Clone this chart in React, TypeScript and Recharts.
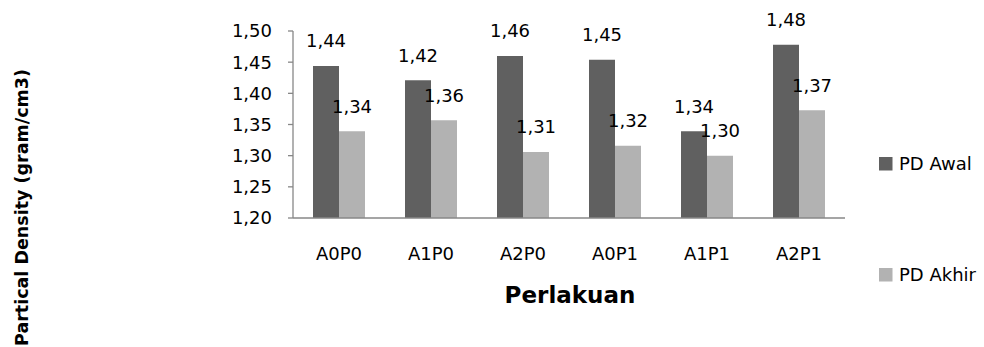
import { Bar, BarChart, LabelList, XAxis, YAxis } from 'recharts';

const categories = ['A0P0', 'A1P0', 'A2P0', 'A0P1', 'A1P1', 'A2P1'];
const pdAwal = [1.444, 1.421, 1.46, 1.454, 1.339, 1.478];
const pdAkhir = [1.339, 1.357, 1.306, 1.316, 1.3, 1.373];
const yTicks = [1.2, 1.25, 1.3, 1.35, 1.4, 1.45, 1.5];

const series = [
  { key: 'awal', name: 'PD Awal', color: '#606060' },
  { key: 'akhir', name: 'PD Akhir', color: '#b2b2b2' },
];

const data = categories.map((name, i) => ({
  name,
  awal: pdAwal[i],
  akhir: pdAkhir[i],
}));

const FONT = '"DejaVu Sans", sans-serif';
const AXIS = '#878787';

const fmt = (v: number) => v.toFixed(2).replace('.', ',');

// value labels sit well above the bar top, centred on the bar
function ValueLabel(props: any) {
  const { x, y, width, value } = props;
  return (
    <text
      x={x + width / 2}
      y={y - 18.5}
      textAnchor="middle"
      fontFamily={FONT}
      fontSize={18}
      fill="#000"
    >
      {fmt(Number(value))}
    </text>
  );
}

function CategoryTick(props: any) {
  const { x, y, payload } = props;
  return (
    <text x={x} y={y + 41.5} textAnchor="middle" fontFamily={FONT} fontSize={18} fill="#000">
      {payload.value}
    </text>
  );
}

export default function App() {
  return (
    <div style={{ position: 'absolute', left: 0, top: 0, width: 984, height: 347, background: '#fff' }}>
      <BarChart
        width={984}
        height={347}
        data={data}
        margin={{ top: 31, right: 139, bottom: 89, left: 230 }}
        barCategoryGap={20}
        barGap={0}
      >
        <XAxis
          dataKey="name"
          height={40}
          axisLine={{ stroke: AXIS, strokeWidth: 1.3 }}
          tickLine={false}
          tickSize={0}
          tickMargin={0}
          tick={<CategoryTick />}
          interval={0}
        />
        <YAxis
          width={63}
          domain={[1.2, 1.5]}
          ticks={yTicks}
          interval={0}
          tickFormatter={fmt}
          axisLine={{ stroke: AXIS, strokeWidth: 1.3 }}
          tickLine={{ stroke: AXIS, strokeWidth: 1.3 }}
          tickSize={5}
          tickMargin={16}
          tick={{ fontFamily: FONT, fontSize: 18, fill: '#000' }}
        />
        {series.map((s) => (
          <Bar key={s.key} dataKey={s.key} name={s.name} fill={s.color} isAnimationActive={false}>
            <LabelList dataKey={s.key} content={<ValueLabel />} />
          </Bar>
        ))}
      </BarChart>
      <svg
        width={984}
        height={347}
        style={{ position: 'absolute', left: 0, top: 0, pointerEvents: 'none' }}
      >
        <text
          x={570}
          y={303}
          textAnchor="middle"
          fontFamily={FONT}
          fontWeight="bold"
          fontSize={23}
          fill="#000"
        >
          Perlakuan
        </text>
        <text
          x={28}
          y={207.5}
          transform="rotate(-90, 28, 207.5)"
          textAnchor="middle"
          fontFamily={FONT}
          fontWeight="bold"
          fontSize={17.5}
          fill="#000"
        >
          Partical Density (gram/cm3)
        </text>
        {series.map((s, i) => {
          const top = 157 + i * 111;
          return (
            <g key={s.key}>
              <rect x={879} y={top} width={13.5} height={13.5} fill={s.color} />
              <text x={899} y={top + 13} fontFamily={FONT} fontSize={18} fill="#000">
                {s.name}
              </text>
            </g>
          );
        })}
      </svg>
    </div>
  );
}
